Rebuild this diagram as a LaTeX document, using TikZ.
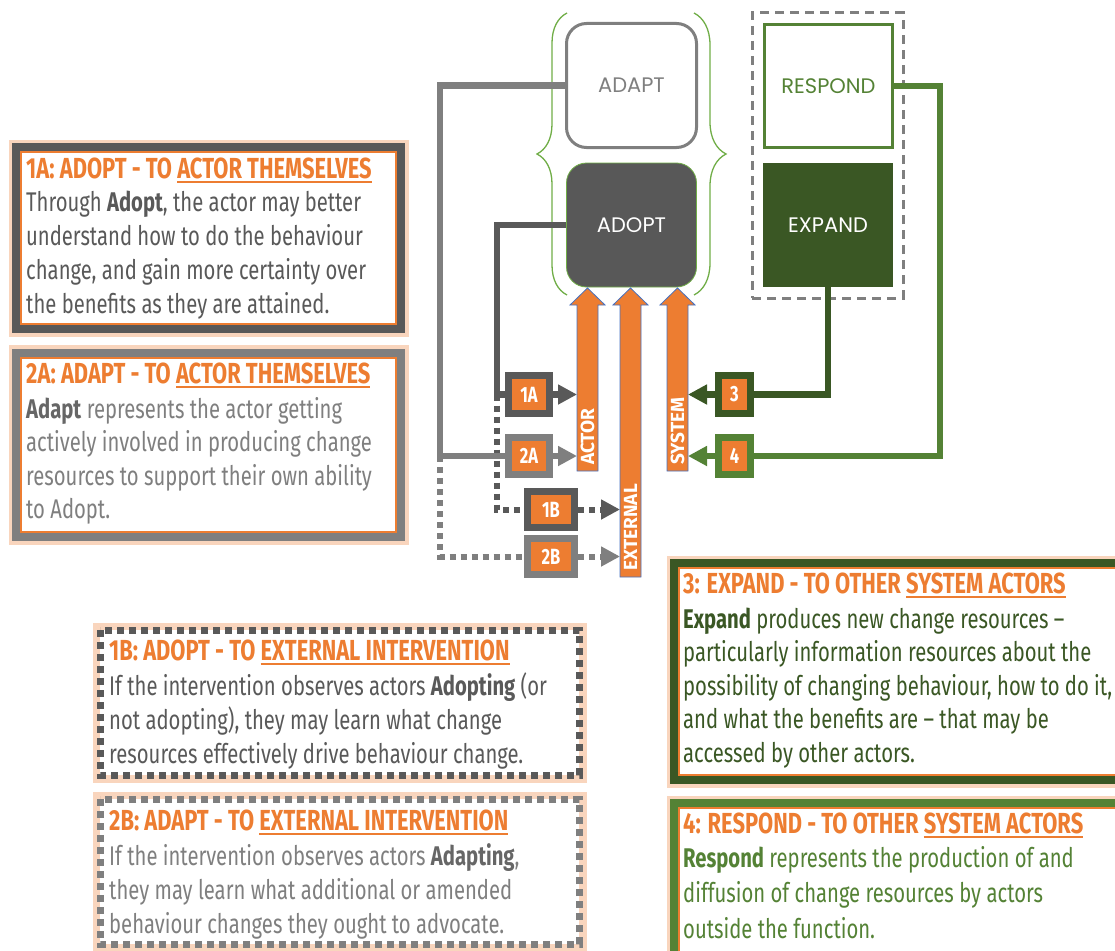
\documentclass[tikz,border=0pt]{standalone}
\usepackage{fontspec}
\setmainfont{Fira Sans}[FakeStretch=0.75]
\newfontfamily\headfont{Fira Sans}[FakeStretch=0.755]
\newfontfamily\plainfont{Fira Sans}
\newfontfamily\geofont{Poppins}
\usetikzlibrary{arrows.meta,calc,decorations.pathreplacing}

\definecolor{brandorange}{HTML}{ED7D31}
\definecolor{darkgrey}{HTML}{595959}
\definecolor{midgrey}{HTML}{7F7F7F}
\definecolor{boldgrey}{HTML}{666666}
\definecolor{adoptfill}{HTML}{585858}
\definecolor{deepgreen}{HTML}{3A5724}
\definecolor{leafgreen}{HTML}{548235}
\definecolor{bracegreen}{HTML}{70AD47}
\definecolor{arrowblue}{HTML}{4472C4}

% orange underline for the key phrase of each heading
\newsavebox\ulbox
\newcommand\orul[1]{\leavevmode\sbox\ulbox{#1}\rlap{\rule[-4.5pt]{\wd\ulbox}{1.6pt}}\usebox\ulbox}

\begin{document}
\begin{tikzpicture}[x=1pt,y=-1pt,
  stage/.style={rectangle, rounded corners=20pt, minimum width=130pt, minimum height=124pt,
    font=\geofont\fontsize{21}{25}\selectfont},
  tag/.style={rectangle, fill=brandorange, line width=7pt, inner sep=0pt, text=white,
    font=\bfseries\fontsize{22}{22}\selectfont},
  barbody/.style={rectangle, minimum width=21pt, inner sep=0pt, outer sep=0pt},
  barshape/.style={fill=brandorange, draw=arrowblue, line width=0.8pt, line join=miter},
  barlabel/.style={rotate=90, anchor=west, text=white, inner sep=0pt,
    font=\plainfont\bfseries\fontsize{19}{19}\selectfont},
  solidlink/.style={line width=6.5pt},
  dotlink/.style={line width=6pt, dash pattern=on 6pt off 5pt},
  head/.style={-{Triangle[length=19pt,width=19pt]}},
  glow/.style={brandorange!32, line width=15pt},
  frame/.style={line width=8pt, fill=white},
  dotframe/.style={line width=7pt, dash pattern=on 7pt off 5pt},
  liner/.style={brandorange, line width=2pt},
  title/.style={anchor=base west, inner sep=0pt, text=brandorange,
    font=\headfont\bfseries\fontsize{29}{29}\selectfont},
  % multi-line blocks: the base anchor sits on the last line
  body/.style={anchor=base west, inner sep=0pt, align=left,
    font=\fontsize{27}{#1}\selectfont},
  body/.default=34pt]

\useasboundingbox (0,0) rectangle (1115,950);
\clip (0,0) rectangle (1115,950);

% ---------- explanation panels ----------
% 1A
\draw[glow] (16,147) rectangle (401,329);
\draw[frame, draw=darkgrey] (16,147) rectangle (401,329);
\draw[liner] (21,152) rectangle (396,324);
% 2A
\draw[glow] (16,352.5) rectangle (401,537);
\draw[frame, draw=midgrey] (16,352.5) rectangle (401,537);
\draw[liner] (21,357.5) rectangle (396,532);
% 1B
\draw[glow] (100,630) rectangle (579,775);
\fill[white] (100,630) rectangle (579,775);
\draw[dotframe, darkgrey] (100,630) rectangle (579,775);
% 2B
\draw[glow] (100,799) rectangle (579,944);
\fill[white] (100,799) rectangle (579,944);
\draw[dotframe, midgrey] (100,799) rectangle (579,944);
% 3
\draw[glow] (674,563) rectangle (1135,780);
\draw[frame, draw=deepgreen] (674,563) rectangle (1135,780);
\draw[liner] (679,568) rectangle (1130,775);
% 4
\draw[glow] (674,803) rectangle (1135,965);
\draw[frame, draw=leafgreen] (674,803) rectangle (1135,965);
\draw[liner] (679,808) rectangle (1130,960);

\node[title] (t1A) at (26,178) {1A: ADOPT - TO \orul{ACTOR THEMSELVES}};
\node[body, text=darkgrey] (x1A) at (26,313) {Through \textbf{Adopt}, the actor may better\\
  understand how to do the behaviour\\change, and gain more certainty over\\the benefits as they are attained.};

\node[title] (t2A) at (26,383) {2A: ADAPT - TO \orul{ACTOR THEMSELVES}};
\node[body=33.5pt, text=midgrey] (x2A) at (26,518.5) {\textcolor{boldgrey}{\textbf{Adapt}} represents the actor getting\\
  actively involved in producing change\\resources to support their own ability\\to Adopt.};

\node[title] (t1B) at (109,660) {1B: ADOPT - TO \orul{EXTERNAL INTERVENTION}};
\node[body, text=darkgrey] (x1B) at (109,763) {If the intervention observes actors \textbf{Adopting} (or\\
  not adopting), they may learn what change\\resources effectively drive behaviour change.};

\node[title] (t2B) at (109,830) {2B: ADAPT - TO \orul{EXTERNAL INTERVENTION}};
\node[body, text=midgrey] (x2B) at (109,933) {If the intervention observes actors \textcolor{boldgrey}{\textbf{Adapting}},\\
  they may learn what additional or amended\\behaviour changes they ought to advocate.};

\node[title] (t3) at (683,593) {3: EXPAND - TO OTHER \orul{SYSTEM ACTORS}};
\node[body=33.5pt, text=deepgreen] (x3) at (683,762) {\textbf{Expand} produces new change resources –\\
  particularly information resources about the\\possibility of changing behaviour, how to do it,\\
  and what the benefits are – that may be\\accessed by other actors.};

\node[title] (t4) at (683,833) {4: RESPOND - TO OTHER \orul{SYSTEM ACTORS}};
\node[body=35.5pt, text=leafgreen] (x4) at (683,938) {\textbf{Respond} represents the production of and\\
  diffusion of change resources by actors\\outside the function.};

% ---------- behaviour stages ----------
\draw[bracegreen, line width=1.3pt, decorate, decoration={brace, amplitude=30pt}] (567,295) -- (567,13);
\draw[bracegreen, line width=1.3pt, decorate, decoration={brace, amplitude=32pt}] (694,13) -- (694,295);

\node[stage, draw=midgrey, line width=3pt, text=midgrey] (adapt) at (631.5,85.5) {ADAPT};
\node[stage, fill=adoptfill, draw=bracegreen, line width=0.8pt, text=white] (adopt) at (631.5,225) {ADOPT};

\node[draw=midgrey, line width=3pt, dash pattern=on 9pt off 6pt, minimum width=151pt,
  minimum height=285pt] (cluster) at (827.5,155.5) {};
\node[stage, rounded corners=0pt, draw=leafgreen, line width=3pt, text=leafgreen,
  minimum width=128pt, minimum height=123pt] (respond) at (828.5,86) {RESPOND};
\node[stage, rounded corners=0pt, fill=deepgreen, text=white] (expand) at (828,225) {EXPAND};

% ---------- change-resource arrows ----------
\node[barbody, minimum height=166pt] (actor) at (587.5,388) {};
\node[barbody, minimum height=272pt] (external) at (630.5,441) {};
\node[barbody, minimum height=166pt] (system) at (677.5,388) {};
\foreach \b in {actor,external,system}
  \draw[barshape] (\b.south west) -- (\b.north west) -- ++(-7,0) -- ($(\b.north)+(0,-17)$)
    -- ($(\b.north east)+(7,0)$) -- (\b.north east) -- (\b.south east) -- cycle;
\node[barlabel] (actorlbl) at ($(actor.south)+(0,-6)$) {ACTOR};
\node[barlabel] (externallbl) at ($(external.south)+(0,-6)$) {EXTERNAL};
\node[barlabel] (systemlbl) at ($(system.south)+(0,-6)$) {SYSTEM};

% ---------- pathway tags ----------
\node[tag, draw=darkgrey, minimum width=41pt, minimum height=38pt] (b1A) at (529,394.5) {1A};
\node[tag, draw=midgrey, minimum width=41pt, minimum height=37pt] (b2A) at (529,456) {2A};
\node[tag, draw=darkgrey, minimum width=47pt, minimum height=36pt] (b1B) at (551,509.5) {1B};
\node[tag, draw=midgrey, minimum width=47pt, minimum height=36pt] (b2B) at (551,556.5) {2B};
\node[tag, draw=deepgreen, minimum width=32pt, minimum height=38pt] (b3) at (734.5,394.5) {3};
\node[tag, draw=leafgreen, minimum width=32pt, minimum height=37pt] (b4) at (734.5,456) {4};

% ---------- connectors ----------
\coordinate (k1) at (497,394.5);
\coordinate (k2) at (440,456);
\coordinate (k3) at (940,456);

\draw[dotlink, darkgrey] (k1) |- (b1B.west);
\draw[dotlink, midgrey] (k2) |- (b2B.west);
\draw[dotlink, darkgrey, head] (b1B.east) -- (b1B.east -| external.west);
\draw[dotlink, midgrey, head] (b2B.east) -- (b2B.east -| external.west);

\draw[solidlink, midgrey] (adapt.west) -| (k2) -- (b2A.west);
\draw[solidlink, darkgrey] (adopt.west) -| (k1) -- (b1A.west);
\draw[solidlink, midgrey, head] (b2A.east) -- (b2A.east -| actor.west);
\draw[solidlink, darkgrey, head] (b1A.east) -- (b1A.east -| actor.west);

\draw[solidlink, deepgreen] (expand.south) |- (b3.east);
\draw[solidlink, leafgreen] (respond.east) -| (k3) -- (b4.east);
\draw[solidlink, deepgreen, head] (b3.west) -- (b3.west -| system.east);
\draw[solidlink, leafgreen, head] (b4.west) -- (b4.west -| system.east);
\end{tikzpicture}
\end{document}
